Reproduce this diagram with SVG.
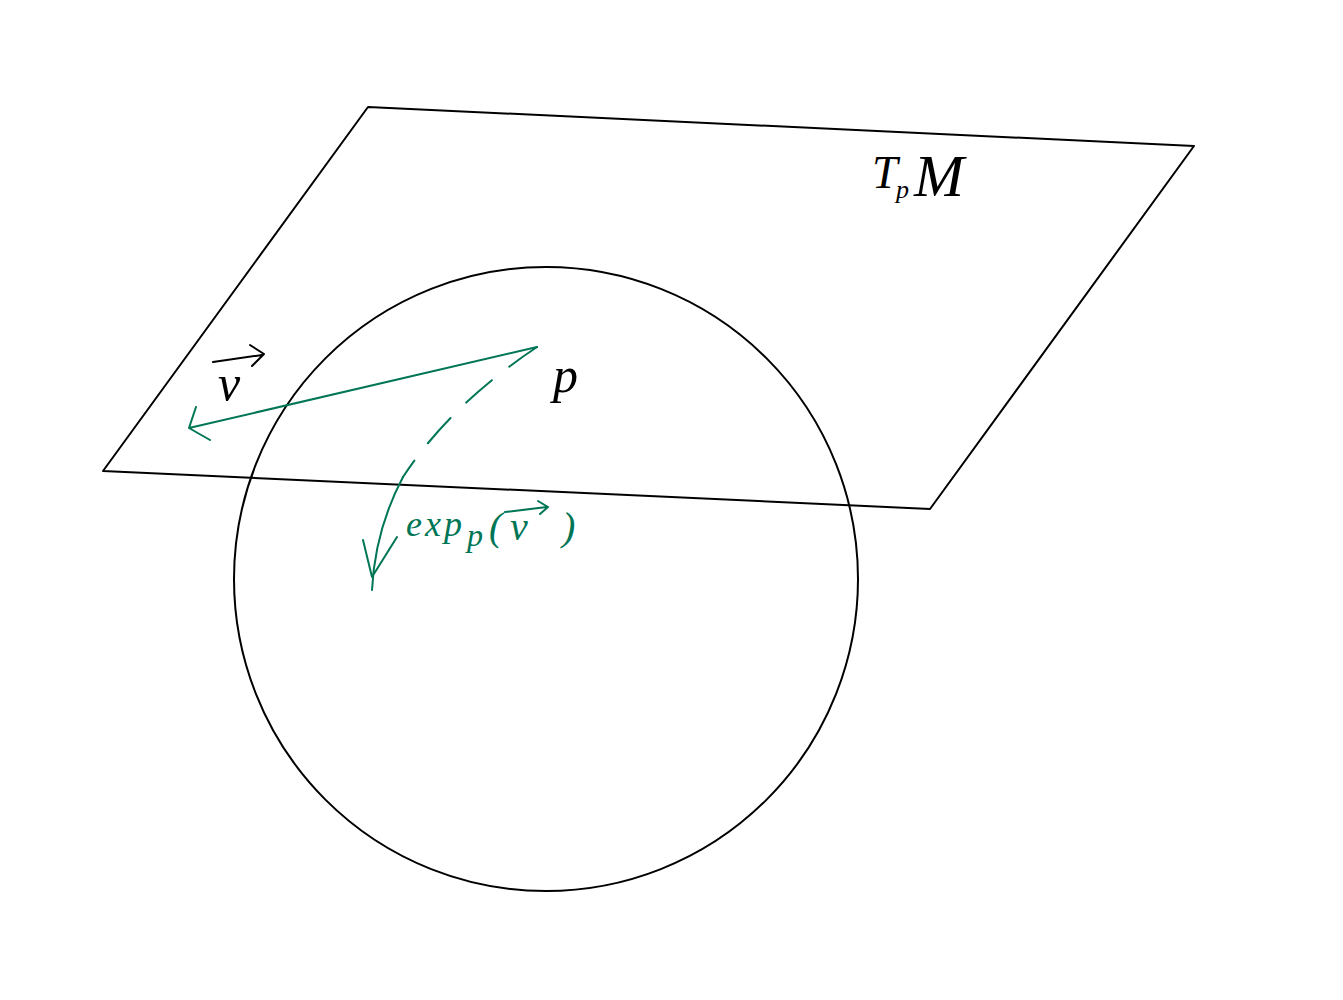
<svg xmlns="http://www.w3.org/2000/svg" width="1343" height="1000" viewBox="0 0 1343 1000">
<style>
.blk{fill:none;stroke:#000;stroke-width:2;stroke-linecap:round;stroke-linejoin:round}
.grn{fill:none;stroke:#007656;stroke-width:2;stroke-linecap:round;stroke-linejoin:round}
.lbl{font-family:"Liberation Serif",serif;font-style:italic;fill:#000}
.glbl{font-family:"Liberation Serif",serif;font-style:italic;fill:#007656}
</style>
<rect width="1343" height="1000" fill="#fff"/>
<g id="plane">
<polygon class="blk" points="368,107 1194,146 930,509 103,471"/>
</g>
<g id="sphere">
<circle class="blk" cx="546" cy="579" r="312"/>
</g>
<g id="connectors">
<path class="grn" d="M537,347 L189,428 M196,407 L189,428 L210,440"/>
<path class="grn" d="M537,347 Q450,405 403,477" stroke-dasharray="34,22"/>
<path class="grn" d="M403,477 Q375,530 372,590 M363,540 L372,577 L397,537"/>
</g>
<g id="label-TpM">
<text class="lbl" x="872" y="188" font-size="46">T</text>
<text class="lbl" x="896" y="198" font-size="26">p</text>
<text class="lbl" x="914" y="196" font-size="60">M</text>
</g>
<g id="label-v">
<text class="lbl" x="218" y="400" font-size="50">v</text>
<path class="blk" d="M213,362 L262,355 M250,345 L264,354 L252,366"/>
</g>
<g id="label-p">
<text class="lbl" x="553" y="392" font-size="50">p</text>
</g>
<g id="label-exp">
<text class="glbl" x="406" y="536" font-size="36" letter-spacing="3">exp</text>
<text class="glbl" x="467" y="546" font-size="32">p</text>
<text class="glbl" x="489" y="540" font-size="40">(</text>
<text class="glbl" x="510" y="540" font-size="40">v</text>
<text class="glbl" x="562" y="540" font-size="40">)</text>
<path class="grn" d="M505,512 L547,507 M538,501 L548,507 L540,514"/>
</g>
</svg>
